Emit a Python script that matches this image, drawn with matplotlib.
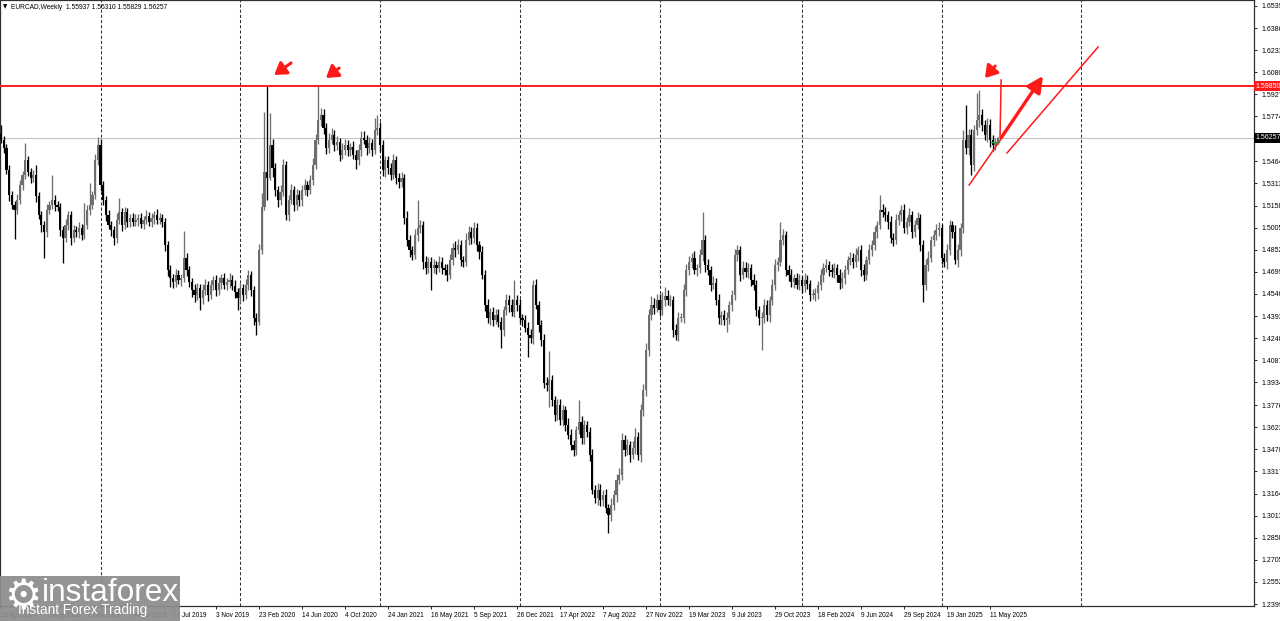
import numpy as np
import matplotlib
matplotlib.use("Agg")
import matplotlib.pyplot as plt
from matplotlib.patches import Rectangle

# EURCAD weekly closes, one per week from 22 Apr 2018 (bar 0) to the live bar
closes = [
    1.5612, 1.5556, 1.5404, 1.5231, 1.5162, 1.5127, 1.5197, 1.5300, 1.5369, 1.5473, 1.5390, 1.5349, 1.5369, 1.5224, 1.5093, 1.5023,
    1.4975, 1.5127, 1.5162, 1.5197, 1.5162, 1.5148, 1.4989, 1.4934, 1.5023, 1.5093, 1.4934, 1.4989, 1.4975, 1.5002, 1.4954, 1.5023,
    1.5127, 1.5162, 1.5231, 1.5473, 1.5577, 1.5300, 1.5197, 1.5093, 1.5023, 1.4989, 1.4934, 1.5058, 1.5113, 1.5023, 1.5113, 1.5044,
    1.5072, 1.5044, 1.5058, 1.5072, 1.5030, 1.5058, 1.5086, 1.5044, 1.5072, 1.5093, 1.5058, 1.5072, 1.5044, 1.4885, 1.4712, 1.4656,
    1.4629, 1.4677, 1.4643, 1.4656, 1.4795, 1.4712, 1.4629, 1.4573, 1.4539, 1.4587, 1.4518, 1.4573, 1.4608, 1.4539, 1.4608, 1.4643,
    1.4573, 1.4622, 1.4656, 1.4608, 1.4629, 1.4643, 1.4601, 1.4560, 1.4518, 1.4587, 1.4539, 1.4608, 1.4677, 1.4573, 1.4379, 1.4352,
    1.4850, 1.5148, 1.5390, 1.5349, 1.5577, 1.5418, 1.5266, 1.5197, 1.5252, 1.5439, 1.5093, 1.5197, 1.5266, 1.5162, 1.5231, 1.5197,
    1.5266, 1.5300, 1.5266, 1.5335, 1.5439, 1.5612, 1.5750, 1.5785, 1.5695, 1.5556, 1.5612, 1.5646, 1.5577, 1.5598, 1.5508, 1.5543,
    1.5577, 1.5543, 1.5563, 1.5508, 1.5473, 1.5543, 1.5626, 1.5612, 1.5556, 1.5591, 1.5543, 1.5681, 1.5695, 1.5577, 1.5404, 1.5473,
    1.5418, 1.5369, 1.5473, 1.5349, 1.5321, 1.5349, 1.5072, 1.4920, 1.4850, 1.4816, 1.4954, 1.5002, 1.5023, 1.4767, 1.4726, 1.4767,
    1.4726, 1.4746, 1.4726, 1.4767, 1.4726, 1.4712, 1.4677, 1.4781, 1.4864, 1.4850, 1.4885, 1.4781, 1.4767, 1.4920, 1.4975, 1.4934,
    1.5002, 1.4885, 1.4836, 1.4677, 1.4469, 1.4379, 1.4421, 1.4366, 1.4400, 1.4352, 1.4296, 1.4435, 1.4504, 1.4469, 1.4421, 1.4504,
    1.4469, 1.4379, 1.4366, 1.4310, 1.4262, 1.4241, 1.4608, 1.4469, 1.4331, 1.4227, 1.3929, 1.3916, 1.3950, 1.3812, 1.3708, 1.3777,
    1.3673, 1.3743, 1.3639, 1.3570, 1.3500, 1.3466, 1.3604, 1.3659, 1.3549, 1.3639, 1.3590, 1.3431, 1.3189, 1.3133, 1.3189, 1.3120,
    1.3154, 1.3064, 1.3016, 1.3085, 1.3154, 1.3258, 1.3293, 1.3535, 1.3466, 1.3500, 1.3431, 1.3480, 1.3556, 1.3431, 1.3743, 1.3881,
    1.4158, 1.4400, 1.4469, 1.4449, 1.4504, 1.4435, 1.4504, 1.4532, 1.4504, 1.4504, 1.4296, 1.4262, 1.4379, 1.4379, 1.4573, 1.4712,
    1.4767, 1.4795, 1.4712, 1.4726, 1.4816, 1.4920, 1.4746, 1.4712, 1.4608, 1.4622, 1.4504, 1.4379, 1.4400, 1.4366, 1.4379, 1.4469,
    1.4539, 1.4816, 1.4850, 1.4677, 1.4726, 1.4698, 1.4726, 1.4643, 1.4608, 1.4435, 1.4379, 1.4379, 1.4469, 1.4400, 1.4504, 1.4608,
    1.4746, 1.4767, 1.4920, 1.4954, 1.4712, 1.4677, 1.4629, 1.4656, 1.4608, 1.4643, 1.4601, 1.4643, 1.4615, 1.4539, 1.4539, 1.4553,
    1.4608, 1.4677, 1.4726, 1.4746, 1.4712, 1.4698, 1.4726, 1.4677, 1.4622, 1.4656, 1.4712, 1.4781, 1.4795, 1.4767, 1.4816, 1.4850,
    1.4712, 1.4677, 1.4781, 1.4850, 1.4885, 1.4975, 1.5023, 1.5127, 1.5113, 1.5093, 1.5044, 1.4934, 1.4920, 1.5058, 1.5093, 1.5127,
    1.5002, 1.5044, 1.5093, 1.4975, 1.5023, 1.5072, 1.4885, 1.4608, 1.4746, 1.4795, 1.4920, 1.4954, 1.4989, 1.5002, 1.4795, 1.4767,
    1.4850, 1.5023, 1.4975, 1.4781, 1.4850, 1.5002, 1.5612, 1.5556, 1.5646, 1.5439, 1.5681, 1.5750, 1.5785, 1.5716, 1.5646, 1.5716,
    1.5612, 1.5577, 1.55937, 1.56257,
]
first_open = 1.5650

# wick lengths in pips above / below each candle body
wick_up = [
    65, 30, 25, 35, 30, 25, 40, 35, 30, 120, 30, 25, 35, 70, 25, 30,
    30, 40, 25, 170, 35, 30, 25, 30, 40, 30, 25, 35, 30, 40, 30, 150,
    35, 150, 30, 40, 55, 40, 30, 25, 35, 30, 25, 45, 100, 30, 35, 30,
    30, 35, 40, 25, 35, 30, 40, 30, 35, 30, 40, 35, 30, 25, 30, 35,
    30, 40, 35, 30, 190, 35, 30, 25, 40, 35, 30, 45, 40, 30, 35, 30,
    35, 40, 30, 35, 30, 45, 35, 40, 30, 35, 30, 40, 35, 30, 30, 35,
    40, 100, 415, 595, 220, 40, 35, 30, 45, 40, 30, 35, 40, 30, 45, 35,
    35, 40, 30, 35, 45, 40, 235, 45, 40, 35, 45, 50, 35, 40, 30, 45,
    40, 35, 30, 45, 35, 40, 50, 45, 35, 40, 30, 85, 90, 40, 35, 30,
    30, 35, 40, 30, 35, 40, 30, 45, 35, 30, 40, 195, 35, 30, 40, 35,
    35, 40, 30, 45, 35, 30, 40, 45, 35, 50, 40, 35, 30, 45, 40, 35,
    40, 35, 30, 45, 35, 40, 30, 35, 45, 40, 35, 30, 40, 35, 45, 140,
    35, 40, 30, 35, 45, 40, 35, 40, 30, 35, 45, 40, 200, 35, 30, 45,
    40, 35, 30, 45, 40, 35, 30, 150, 40, 35, 30, 35, 40, 35, 45, 40,
    35, 40, 30, 45, 35, 40, 50, 45, 35, 40, 30, 45, 60, 35, 40, 45,
    45, 40, 60, 50, 45, 40, 55, 60, 40, 35, 30, 45, 40, 35, 45, 40,
    40, 35, 45, 30, 40, 190, 35, 40, 30, 45, 35, 40, 30, 35, 40, 30,
    35, 40, 35, 30, 45, 40, 35, 30, 40, 35, 30, 45, 40, 35, 30, 40,
    40, 35, 125, 45, 30, 35, 40, 30, 35, 40, 30, 45, 35, 30, 40, 35,
    30, 40, 35, 45, 30, 40, 35, 30, 45, 40, 35, 30, 40, 35, 45, 30,
    35, 40, 30, 45, 35, 40, 30, 105, 40, 35, 30, 45, 35, 40, 30, 35,
    40, 35, 45, 30, 35, 40, 30, 35, 40, 45, 30, 35, 40, 45, 30, 35,
    40, 35, 30, 45, 40, 35, 70, 240, 45, 40, 35, 185, 175, 40, 35, 45,
    40, 35, 30, 5,
]
wick_dn = [
    20, 35, 30, 40, 30, 200, 30, 25, 35, 30, 30, 35, 25, 40, 30, 45,
    180, 35, 30, 30, 40, 30, 45, 175, 30, 35, 50, 30, 35, 40, 35, 30,
    30, 35, 30, 25, 35, 40, 35, 40, 30, 45, 50, 35, 30, 40, 30, 35,
    35, 30, 25, 40, 30, 35, 30, 25, 35, 40, 30, 25, 35, 40, 45, 60,
    40, 35, 30, 45, 30, 40, 35, 45, 50, 35, 80, 40, 35, 45, 30, 35,
    40, 35, 45, 30, 35, 40, 30, 45, 80, 35, 40, 30, 35, 40, 45, 90,
    20, 30, 20, 150, 15, 60, 40, 50, 35, 30, 35, 40, 30, 45, 35, 40,
    40, 35, 45, 30, 35, 30, 25, 40, 45, 40, 35, 30, 40, 35, 45, 30,
    35, 40, 45, 30, 60, 35, 40, 30, 45, 35, 40, 30, 35, 50, 40, 45,
    40, 35, 30, 45, 40, 35, 45, 40, 50, 35, 30, 40, 35, 45, 40, 35,
    150, 35, 40, 30, 45, 35, 40, 30, 35, 45, 30, 40, 35, 30, 35, 40,
    35, 40, 45, 30, 40, 35, 45, 40, 30, 35, 125, 40, 35, 45, 30, 35,
    40, 35, 45, 30, 150, 35, 40, 30, 45, 40, 35, 40, 150, 45, 40, 35,
    35, 40, 45, 30, 35, 40, 35, 30, 45, 40, 35, 40, 30, 35, 45, 40,
    40, 35, 125, 40, 35, 45, 30, 35, 40, 35, 45, 30, 40, 35, 45, 40,
    40, 45, 35, 40, 30, 45, 35, 40, 35, 40, 45, 35, 40, 30, 35, 40,
    35, 40, 30, 45, 35, 40, 45, 35, 40, 30, 35, 40, 45, 35, 80, 40,
    40, 35, 45, 40, 30, 35, 40, 45, 35, 40, 45, 220, 35, 40, 45, 35,
    35, 40, 30, 35, 45, 40, 35, 40, 30, 35, 45, 40, 35, 45, 30, 40,
    40, 35, 45, 30, 40, 35, 40, 50, 45, 35, 40, 30, 35, 40, 35, 45,
    45, 40, 35, 30, 40, 35, 45, 30, 35, 40, 45, 35, 40, 30, 35, 40,
    35, 40, 30, 45, 35, 30, 40, 120, 35, 40, 30, 45, 35, 40, 45, 35,
    45, 35, 40, 30, 45, 40, 35, 40, 45, 70, 40, 35, 45, 40, 35, 45,
    50, 40, 35, 11,
]

date_labels = [
    "22 Apr 2018", "12 Aug 2018", "2 Dec 2018", "24 Mar 2019", "14 Jul 2019",
    "3 Nov 2019", "23 Feb 2020", "14 Jun 2020", "4 Oct 2020", "24 Jan 2021",
    "16 May 2021", "5 Sep 2021", "26 Dec 2021", "17 Apr 2022", "7 Aug 2022",
    "27 Nov 2022", "19 Mar 2023", "9 Jul 2023", "29 Oct 2023", "18 Feb 2024",
    "9 Jun 2024", "29 Sep 2024", "19 Jan 2025", "11 May 2025",
]
label_step = 16                      # one date label every 16 weeks
year_starts = [37, 89, 141, 193, 245, 298, 350, 402]
price_ticks = [
    1.65395, 1.63865, 1.62335, 1.60805, 1.59275, 1.57745, 1.54640, 1.53110,
    1.51580, 1.50050, 1.48520, 1.46990, 1.45460, 1.43930, 1.42400, 1.40870,
    1.39340, 1.37765, 1.36235, 1.34705, 1.33175, 1.31645, 1.30115, 1.28585,
    1.27055, 1.25525, 1.23995,
]
resistance = 1.59850
last_price = 1.56257
header = "EURCAD,Weekly  1.55937 1.56310 1.55829 1.56257"

# hand-drawn red markup (bar index, price)
arrow_tails = [(107.9, 1.6145), (125.8, 1.6110), (369.9, 1.6124)]
arrow_heads = [(101.6, 1.6062), (120.9, 1.6041), (366.1, 1.6041)]
big_arrow = [(372.1, 1.5626), (387.7, 1.6055)]
thin_lines = [
    [(372.1, 1.6027), (371.7, 1.5633)],
    [(360.2, 1.5300), (372.1, 1.5619)],
    [(374.3, 1.5522), (408.2, 1.6256)],
]
bid_mark = [(368.4, 1.5598), (371.3, 1.5598)]

UP, DOWN, RED = "#6e6e6e", "#000000", "#ff1a1a"
FONT = "Liberation Sans"

fig = plt.figure(figsize=(12.8, 6.21), dpi=100)
ax = fig.add_axes([0.0, 15 / 621, 1254 / 1280, 606 / 621])

c = np.array(closes)
o = np.array([first_open] + closes[:-1])
idx = np.arange(len(c))
top, bot = np.maximum(o, c), np.minimum(o, c)
hi = top + np.array(wick_up) * 1e-4
lo = bot - np.array(wick_dn) * 1e-4
col = np.where(c >= o, UP, DOWN)

for b in year_starts:
    ax.axvline(b, color="#333333", lw=0.75, ls=(0, (3, 2)), zorder=0)
ax.axhline(last_price, color="#c4c4c4", lw=0.8, zorder=1)

ax.vlines(idx, lo, hi, colors=col, lw=0.95, zorder=2)
ax.bar(idx, np.maximum(top - bot, 0.0005), bottom=bot, width=0.82,
       color=col, linewidth=0, zorder=3)

ax.axhline(resistance, color=RED, lw=1.4, zorder=4)
for t, h in zip(arrow_tails, arrow_heads):
    ax.annotate("", xy=h, xytext=t, zorder=5,
                arrowprops=dict(arrowstyle="-|>,head_length=0.7,head_width=0.45",
                                color=RED, lw=2.2, shrinkA=0, shrinkB=0,
                                mutation_scale=10))
ax.annotate("", xy=big_arrow[1], xytext=big_arrow[0], zorder=5,
            arrowprops=dict(arrowstyle="-|>,head_length=0.8,head_width=0.4",
                            color=RED, lw=2.4, shrinkA=0, shrinkB=0,
                            mutation_scale=12))
for ln in thin_lines:
    ax.plot([p[0] for p in ln], [p[1] for p in ln], color=RED, lw=1.1, zorder=5)
ax.plot([p[0] for p in bid_mark], [p[1] for p in bid_mark], color="#22aa44",
        lw=1.0, zorder=5)

ax.set_xlim(-0.4, 466.2)
ax.set_ylim(1.23857, 1.6581)

ax.yaxis.tick_right()
ax.set_yticks(price_ticks)
ax.set_yticklabels([f"{v:.5f}" for v in price_ticks], family=FONT)
ax.tick_params(axis="y", direction="out", length=2.5, pad=3, labelsize=5,
               width=0.6)
ax.set_xticks(np.arange(len(date_labels)) * label_step)
ax.set_xticklabels(date_labels, family=FONT)
for lab in ax.get_xticklabels():
    lab.set_ha("left")
ax.tick_params(axis="x", direction="out", length=2, pad=2, labelsize=4.7,
               width=0.6)
for name, s in ax.spines.items():
    s.set_color("#303030")
    s.set_linewidth(0.9)

ax.text(1.001, resistance, "1.59850", transform=ax.get_yaxis_transform(),
        va="center", ha="left", fontsize=5, color="white", clip_on=False,
        family=FONT, bbox=dict(boxstyle="square,pad=0.25", fc=RED, ec="none"))
ax.text(1.001, last_price, "1.56257", transform=ax.get_yaxis_transform(),
        va="center", ha="left", fontsize=5, color="white", clip_on=False,
        family=FONT, bbox=dict(boxstyle="square,pad=0.25", fc="black", ec="none"))
ax.text(0.002, 0.993, "\u25bc", transform=ax.transAxes, va="top", ha="left",
        fontsize=4, color="black")
ax.text(0.0085, 0.994, header, transform=ax.transAxes, va="top", ha="left",
        fontsize=4.8, color="black", family=FONT)

# instaforex watermark, bottom-left (slightly see-through like the original)
fig.add_artist(Rectangle((0, 0), 180 / 1280, 45 / 621, transform=fig.transFigure,
                         fc="#8c8c8c", ec="none", alpha=0.93, zorder=10))
fig.text(23 / 1280, (621 - 597) / 621, "\u2699", fontsize=30, color="white",
         ha="center", va="center", zorder=11)
fig.text(42 / 1280, (621 - 593) / 621, "instaforex", fontsize=22.8, color="white",
         ha="left", va="center", zorder=11, family=FONT)
fig.text(18 / 1280, (621 - 610) / 621, "Instant Forex Trading", fontsize=9.8,
         color="white", ha="left", va="center", zorder=11, family=FONT)

fig.savefig("out.png", dpi=100)
